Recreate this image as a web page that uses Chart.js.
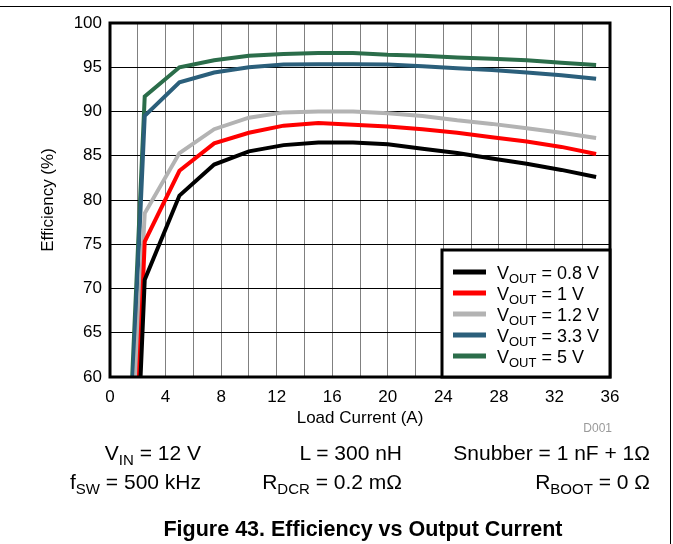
<!DOCTYPE html>
<html>
<head>
<meta charset="utf-8">
<script src="https://cdn.jsdelivr.net/npm/chart.js@4.4.0/dist/chart.umd.min.js"></script>
<style>
html, body { margin: 0; padding: 0; background: #fff; }
#wrap { position: relative; width: 673px; height: 544px; overflow: hidden; font-family: Arial, "Liberation Sans", sans-serif; }
#frame { position: absolute; left: -2px; top: 6px; width: 672px; height: 560px; border-top: 1px solid #000; border-right: 1px solid #000; }
canvas { position: absolute; left: 0; top: 0; }
.nota { position: absolute; font-size: 21px; line-height: 21px; color: #000; white-space: nowrap; text-align: right; }
.nota sub { font-size: 15px; vertical-align: -5px; line-height: 0; }
#d001 { position: absolute; right: 61px; top: 421px; font-size: 12px; color: #9a9a9a; }
#legenda { position: absolute; left: 53px; right: 0; top: 517px; text-align: center; font-size: 21.5px; font-weight: bold; }
</style>
</head>
<body>
<div id="wrap">
<div id="frame"></div>
<canvas id="Eficiencia" width="673" height="544"></canvas>
<div id="d001">D001</div>
<div class="nota" style="right:472px; top:442px;">V<sub>IN</sub> = 12 V</div>
<div class="nota" style="right:271px; top:442px;">L = 300 nH</div>
<div class="nota" style="right:23px; top:442px;">Snubber = 1 nF + 1&Omega;</div>
<div class="nota" style="right:472px; top:471px;">f<sub>SW</sub> = 500 kHz</div>
<div class="nota" style="right:271px; top:471px;">R<sub>DCR</sub> = 0.2 m&Omega;</div>
<div class="nota" style="right:23px; top:471px;">R<sub>BOOT</sub> = 0 &Omega;</div>
<div id="legenda">Figure 43. Efficiency vs Output Current</div>
</div>
<script>
// corrente de carga (A) e eficiencia (%)
var corrente = [1, 2.5, 5, 7.5, 10, 12.5, 15, 17.5, 20, 22.5, 25, 27.5, 30, 32.5, 35];
var efic08 = [16, 71.0, 80.5, 84.0, 85.5, 86.2, 86.5, 86.5, 86.3, 85.8, 85.3, 84.7, 84.1, 83.4, 82.6];
var efic10 = [20, 75.3, 83.3, 86.4, 87.6, 88.4, 88.7, 88.5, 88.3, 88.0, 87.6, 87.1, 86.6, 86.0, 85.2];
var efic12 = [34, 78.5, 85.3, 88.0, 89.3, 89.9, 90.0, 90.0, 89.8, 89.5, 89.0, 88.6, 88.1, 87.6, 87.0];
var efic33 = [37, 89.5, 93.3, 94.4, 95.0, 95.3, 95.35, 95.35, 95.3, 95.1, 94.9, 94.7, 94.4, 94.1, 93.7];
var efic50 = [39, 91.7, 95.0, 95.8, 96.3, 96.5, 96.6, 96.6, 96.4, 96.3, 96.1, 95.95, 95.8, 95.5, 95.25];
var tensoes = ['0.8', '1', '1.2', '3.3', '5'];
var cores = ['#000000', '#ff0000', '#b3b3b3', '#2b5f7b', '#2b6d4a'];

var fonte = 'Arial, "Liberation Sans", sans-serif';

function pontos(valores) {
    return corrente.map(function (c, i) { return { x: c, y: valores[i] }; });
}

var series = [efic08, efic10, efic12, efic33, efic50];
var datasets = series.map(function (valores, i) {
    return {
        label: 'VOUT = ' + tensoes[i] + ' V',
        data: pontos(valores),
        borderColor: cores[i],
        backgroundColor: cores[i],
        borderWidth: 4,
        pointRadius: 0,
        tension: 0,
        fill: false
    };
});

// borda do grafico e legenda com subscrito
var bordaELegenda = {
    id: 'bordaELegenda',
    afterDraw: function (chart) {
        var ctx = chart.ctx;
        var a = chart.chartArea;
        ctx.save();
        ctx.strokeStyle = '#000';
        ctx.lineWidth = 3;
        ctx.strokeRect(a.left, a.top, a.right - a.left, a.bottom - a.top);

        var lx = a.right - 168, ly = a.bottom - 127;
        ctx.fillStyle = '#fff';
        ctx.fillRect(lx, ly, 168, 127);
        ctx.strokeRect(lx, ly, 168, 127);

        chart.data.datasets.forEach(function (ds, i) {
            var y = ly + 22 + i * 21;
            ctx.strokeStyle = ds.borderColor;
            ctx.lineWidth = 5;
            ctx.beginPath();
            ctx.moveTo(lx + 11, y);
            ctx.lineTo(lx + 44, y);
            ctx.stroke();

            var x = lx + 55;
            ctx.fillStyle = '#000';
            ctx.textBaseline = 'alphabetic';
            ctx.font = '18px ' + fonte;
            ctx.fillText('V', x, y + 7);
            x += ctx.measureText('V').width;
            ctx.font = '13px ' + fonte;
            ctx.fillText('OUT', x, y + 11);
            x += ctx.measureText('OUT').width;
            ctx.font = '18px ' + fonte;
            ctx.fillText(' = ' + tensoes[i] + ' V', x, y + 7);
        });
        ctx.restore();
    }
};

var contexto = document.getElementById('Eficiencia').getContext('2d');
var grafico = new Chart(contexto, {
    type: 'line',
    data: { datasets: datasets },
    options: {
        responsive: false,
        animation: false,
        devicePixelRatio: 1,
        layout: { padding: { left: 30, right: 63, top: 23, bottom: 115 } },
        plugins: { legend: { display: false }, tooltip: { enabled: false } },
        scales: {
            x: {
                type: 'linear',
                min: 0,
                max: 36,
                afterFit: function (s) { s.height = 52; },
                border: { display: false },
                grid: { color: '#808080', lineWidth: 1, drawTicks: false },
                ticks: {
                    stepSize: 2,
                    autoSkip: false,
                    maxRotation: 0,
                    padding: 10,
                    color: '#000',
                    font: { family: fonte, size: 17 },
                    callback: function (v) { return v % 4 === 0 ? v : ''; }
                },
                title: {
                    display: true,
                    text: 'Load Current (A)',
                    color: '#000',
                    font: { family: fonte, size: 17 },
                    padding: { top: 0, bottom: 0 }
                }
            },
            y: {
                min: 60,
                max: 100,
                afterFit: function (s) { s.width = 80; },
                border: { display: false },
                grid: { color: '#000', lineWidth: 1, drawTicks: false },
                ticks: {
                    stepSize: 5,
                    padding: 8,
                    color: '#000',
                    font: { family: fonte, size: 17 }
                },
                title: {
                    display: true,
                    text: 'Efficiency (%)',
                    color: '#000',
                    font: { family: fonte, size: 17 },
                    padding: { top: 8, bottom: 0 }
                }
            }
        }
    },
    plugins: [bordaELegenda]
});
</script>
</body>
</html>
